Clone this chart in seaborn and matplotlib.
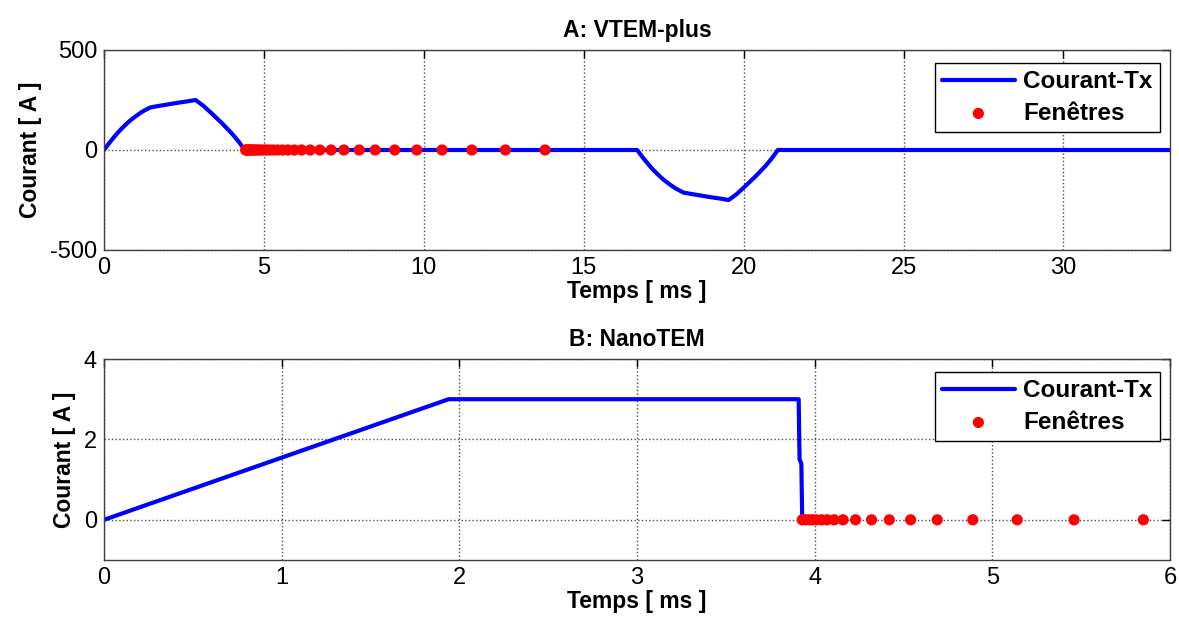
import pandas as pd
import matplotlib
matplotlib.use("Agg")
import matplotlib.pyplot as plt
import seaborn as sns

# A: VTEM-plus - forme d'onde (temps en ms, courant en A)
vtem_t = [0.0, 0.15, 0.3, 0.45, 0.6, 0.8, 1.0, 1.2, 1.45, 1.7, 2.0, 2.3, 2.6, 2.86,
          3.1, 3.4, 3.7, 4.0, 4.2, 4.4,
          16.67, 16.82, 16.97, 17.12, 17.27, 17.47, 17.67, 17.87, 18.12, 18.37, 18.67,
          18.97, 19.27, 19.53, 19.77, 20.07, 20.37, 20.67, 20.87, 21.07, 33.33]
vtem_i = [0, 32, 62, 90, 115, 145, 170, 192, 213, 220, 228, 236, 243, 250,
          222, 178, 132, 82, 44, 0,
          0, -32, -62, -90, -115, -145, -170, -192, -213, -220, -228,
          -236, -243, -250, -222, -178, -132, -82, -44, 0, 0]

# A: fenetres de mesure
vtem_win = [4.43, 4.45, 4.47, 4.50, 4.53, 4.56, 4.60, 4.64, 4.68, 4.73, 4.78, 4.85,
            4.92, 5.00, 5.09, 5.19, 5.30, 5.43, 5.58, 5.75, 5.95, 6.18, 6.45, 6.75,
            7.10, 7.50, 7.98, 8.48, 9.09, 9.78, 10.57, 11.50, 12.55, 13.79]

# B: NanoTEM
nano_t = [0.0, 1.94, 3.91, 3.915, 3.925, 3.93]
nano_i = [0.0, 3.0, 3.0, 1.5, 1.4, 0.0]
nano_win = [3.93, 3.95, 3.97, 3.99, 4.01, 4.04, 4.07, 4.11, 4.16, 4.23, 4.32, 4.42,
            4.54, 4.69, 4.89, 5.14, 5.46, 5.85]

sns.set_style("white")
plt.rcParams["font.family"] = ["Liberation Sans", "DejaVu Sans"]
plt.rcParams["axes.unicode_minus"] = False
plt.rcParams["text.color"] = "black"
plt.rcParams["axes.labelcolor"] = "black"
plt.rcParams["xtick.color"] = "black"
plt.rcParams["ytick.color"] = "black"

fig = plt.figure(figsize=(11.79, 6.24), dpi=100)
ax1 = fig.add_axes([104 / 1179, 1 - 250 / 624, 1066 / 1179, 200 / 624])
ax2 = fig.add_axes([104 / 1179, 1 - 560 / 624, 1066 / 1179, 201 / 624])


def tracer(ax, t, i, win, titre, xlim, ylim, xticks, yticks):
    sns.lineplot(x=t, y=i, ax=ax, color="blue", linewidth=3, sort=False,
                 label="Courant-Tx")
    sns.scatterplot(x=win, y=[0] * len(win), ax=ax, color="red", s=65,
                    edgecolor="none", label="Fenêtres", zorder=3)
    ax.set_xlim(*xlim)
    ax.set_ylim(*ylim)
    ax.set_xticks(xticks)
    ax.set_yticks(yticks)
    ax.grid(True, linestyle=":", color="0.3", linewidth=1)
    ax.tick_params(direction="in", top=True, right=True, labelsize=17,
                   length=6, width=1, pad=5)
    for s in ax.spines.values():
        s.set_color("0.25")
        s.set_linewidth(1)
    ax.set_title(titre, fontsize=16.5, fontweight="bold", pad=9)
    ax.set_xlabel("Temps [ ms ]", fontsize=16.5, fontweight="bold", labelpad=1)
    ax.set_ylabel("Courant [ A ]", fontsize=16.5, fontweight="bold", labelpad=6)
    leg = ax.legend(loc="upper right", bbox_to_anchor=(0.9906, 0.935), fancybox=False,
                    framealpha=1, edgecolor="black", fontsize=17.5,
                    borderaxespad=0, handlelength=3.0, handletextpad=0.35,
                    labelspacing=0.35, borderpad=0.3)
    leg.get_frame().set_linewidth(1)
    for txt in leg.get_texts():
        txt.set_fontweight("bold")


tracer(ax1, vtem_t, vtem_i, vtem_win, "A: VTEM-plus", (0, 33.33), (-500, 500),
       [0, 5, 10, 15, 20, 25, 30], [-500, 0, 500])
tracer(ax2, nano_t, nano_i, nano_win, "B: NanoTEM", (0, 6), (-1, 4),
       [0, 1, 2, 3, 4, 5, 6], [0, 2, 4])

fig.savefig("out.png", dpi=100)
